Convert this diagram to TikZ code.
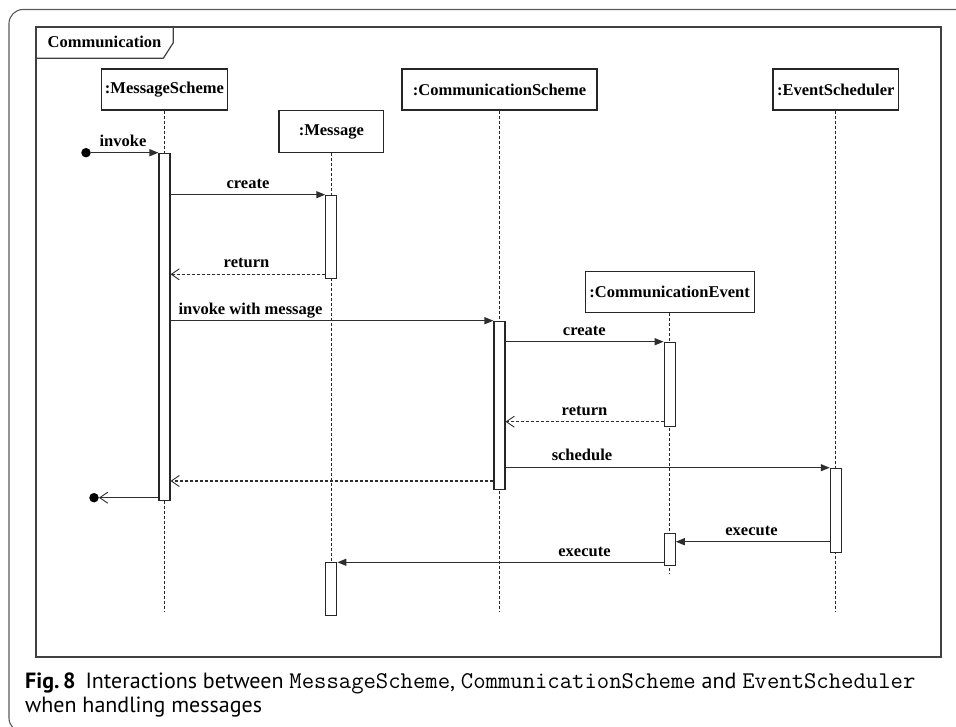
\documentclass[tikz,border=0pt]{standalone}
\usepackage{fontspec}
\setmainfont{Liberation Serif}
\setsansfont{PT Sans}
\usetikzlibrary{arrows.meta}

% class names in the caption, set in a typewriter face
\newcommand\cname[1]{{\fontsize{24}{24}\selectfont\ttfamily #1}}

\begin{document}
\begin{tikzpicture}[x=1pt,y=-1pt,
  frameline/.style={draw=black!75, line width=1.2pt},
  head/.style={draw=black!85, line width=1.1pt, fill=white, inner sep=0pt,
    font=\fontsize{16.5}{18}\selectfont\bfseries},
  bar/.style={draw=black!85, line width=1.1pt, fill=white, inner sep=0pt,
    minimum width=11pt, anchor=north},
  life/.style={draw=black!85, line width=0.9pt, dash pattern=on 3pt off 2pt},
  sync/.style={draw=black!82, line width=1.3pt, -{Triangle[length=9pt,width=7pt]}},
  reply/.style={draw=black!82, line width=1.1pt, dash pattern=on 3pt off 2pt,
    -{Straight Barb[length=8pt,width=11pt,line width=0.9pt]}},
  lost/.style={draw=black!82, line width=1.3pt,
    -{Straight Barb[length=8pt,width=11pt,line width=0.9pt]}},
  msglabel/.style={font=\fontsize{16.5}{18}\selectfont\bfseries, anchor=base, inner sep=0pt},
  dot/.style={circle, fill=black, inner sep=0pt, minimum size=9.5pt}
]
\path[use as bounding box] (0,0) rectangle (956,726);

% page border of the figure
\draw[black!65, line width=1.1pt, rounded corners=14pt]
  (990,9.5) -- (9,9.5) -- (9,732) -- (40,732);

% interaction frame with its name tab
\draw[frameline] (36,27) rectangle (941,657);
\draw[frameline] (36,58.3) -- (163.3,58.3) -- (173.3,42.7) -- (173.3,27);
\node[font=\fontsize{16.5}{18}\selectfont\bfseries, inner sep=0pt] (title) at (104.5,42) {Communication};

% lifeline heads
\node[head, minimum width=126.3pt, minimum height=41pt] (ms) at (164.5,89.5) {:MessageScheme};
\node[head, minimum width=104.6pt, minimum height=42pt] (m)  at (331.3,131.7) {:Message};
\node[head, minimum width=195pt, minimum height=41pt]   (cs) at (499.5,89.5) {:CommunicationScheme};
\node[head, minimum width=168.7pt, minimum height=41.3pt] (ce) at (669.7,291.7) {:CommunicationEvent};
\node[head, minimum width=125.7pt, minimum height=41pt] (es) at (835.8,89.5) {:EventScheduler};

% lifelines
\coordinate (lifeend) at (0,612);
\draw[life] (ms.south) -- (ms.south |- lifeend);
\draw[life] (m.south)  -- (m.south |- 0,562.3);
\draw[life] (cs.south) -- (cs.south |- lifeend);
\draw[life] (ce.south) -- (ce.south |- 0,573.3);
\draw[life] (es.south) -- (es.south |- lifeend);

% activation bars
\node[bar, minimum height=347.3pt] (msbar)  at (164.5,152.7) {};
\node[bar, minimum height=83.6pt]  (mbar1)  at (331.3,194.7) {};
\node[bar, minimum height=52.7pt]  (mbar2)  at (331.3,562.3) {};
\node[bar, minimum height=168.3pt] (csbar)  at (499.5,320.7) {};
\node[bar, minimum height=84pt]    (cebar1) at (669.7,341.7) {};
\node[bar, minimum height=31.7pt]  (cebar2) at (669.7,533.3) {};
\node[bar, minimum height=84.6pt]  (esbar)  at (835.8,467.7) {};

% found and lost message ends
\node[dot] (start) at (86,152.7) {};
\node[dot] (stop) at (94,497.7) {};

% messages
\draw[sync]  (start) -- (msbar.north west);
\draw[sync]  (msbar.east |- mbar1.north) -- (mbar1.north west);
\draw[reply] (mbar1.west |- 0,274.3) -- (msbar.east |- 0,274.3);
\draw[sync]  (msbar.east |- csbar.north) -- (csbar.north west);
\draw[sync]  (csbar.east |- cebar1.north) -- (cebar1.north west);
\draw[reply] (cebar1.west |- 0,421.7) -- (csbar.east |- 0,421.7);
\draw[sync]  (csbar.east |- esbar.north) -- (esbar.north west);
\draw[reply] (csbar.west |- 0,481) -- (msbar.east |- 0,481);
\draw[lost]  (msbar.west |- stop) -- (stop);
\draw[sync]  (esbar.west |- 0,541.7) -- (cebar2.east |- 0,541.7);
\draw[sync]  (cebar2.west |- mbar2.north) -- (mbar2.north east);

% message labels
\node[msglabel] (linvoke)   at (123,146)   {invoke};
\node[msglabel] (lcreate1)  at (248,188)   {create};
\node[msglabel] (lreturn1)  at (246.5,267.7) {return};
\node[msglabel] (linvokem)  at (250.5,314) {invoke with message};
\node[msglabel] (lcreate2)  at (584.3,335) {create};
\node[msglabel] (lreturn2)  at (584.5,415) {return};
\node[msglabel] (lschedule) at (582,460.5) {schedule};
\node[msglabel] (lexecute1) at (751.5,535) {execute};
\node[msglabel] (lexecute2) at (584.5,556) {execute};

% caption (base anchor sits on the last line)
\node[anchor=base west, align=left, inner sep=0pt,
      font=\sffamily\fontsize{22}{24}\selectfont] (caption) at (25,712)
  {\textbf{Fig.\,8}\hspace{0.45em}Interactions between \cname{MessageScheme}, \cname{CommunicationScheme} and \cname{EventScheduler}\\
   when handling messages};
\end{tikzpicture}
\end{document}
